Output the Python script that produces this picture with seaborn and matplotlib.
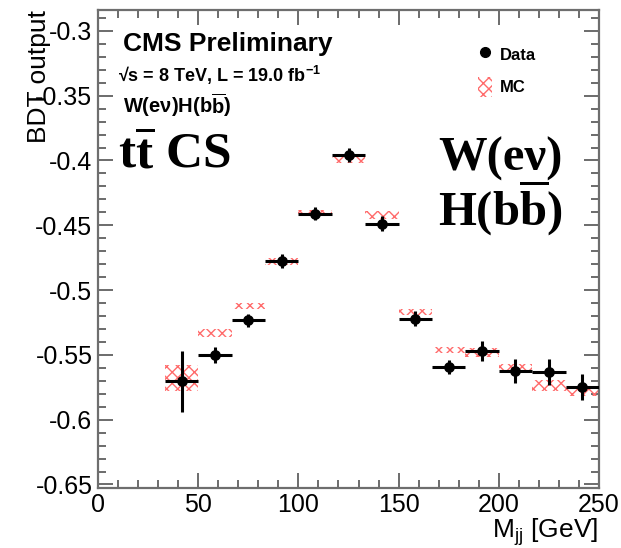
import numpy as np
import pandas as pd
import matplotlib
matplotlib.use("Agg")
import matplotlib.pyplot as plt
import seaborn as sns
from matplotlib.lines import Line2D
from matplotlib.patches import Patch

# ---------------- data ----------------
bin_centers = [41.67, 58.33, 75.0, 91.67, 108.33, 125.0, 141.67, 158.33,
               175.0, 191.67, 208.33, 225.0, 241.67]
bin_halfwidth = 8.333
data_vals = [-0.5705, -0.5500, -0.5233, -0.4777, -0.4410, -0.3954, -0.4487,
             -0.5220, -0.5595, -0.5470, -0.5623, -0.5633, -0.5750]
data_errs = [0.0235, 0.0062, 0.0050, 0.0055, 0.0052, 0.0054, 0.0058,
             0.0058, 0.0054, 0.0074, 0.0092, 0.0103, 0.0100]
mc_vals = [-0.5680, -0.5330, -0.5123, -0.4780, -0.4405, -0.3996, -0.4419,
           -0.5170, -0.5462, -0.5480, -0.5603, -0.5738, -0.5780]
mc_errs = [0.0100, 0.0032, 0.0022, 0.0025, 0.0025, 0.0021, 0.0029,
           0.0022, 0.0022, 0.0033, 0.0033, 0.0042, 0.0041]
x_ticks = [0, 50, 100, 150, 200, 250]
y_ticks = [-0.65, -0.6, -0.55, -0.5, -0.45, -0.4, -0.35, -0.3]
y_ticklabels = ["-0.65", "-0.6", "-0.55", "-0.5", "-0.45", "-0.4", "-0.35", "-0.3"]

df = pd.DataFrame({"mjj": bin_centers, "bdt": data_vals, "err": data_errs,
                   "mc": mc_vals, "mcerr": mc_errs})

# ---------------- style ----------------
sns.set_style("ticks")
plt.rcParams["font.family"] = ["Liberation Sans", "DejaVu Sans"]
plt.rcParams["text.color"] = "black"
plt.rcParams["mathtext.fontset"] = "custom"
plt.rcParams["mathtext.rm"] = "Liberation Serif:bold"
plt.rcParams["mathtext.bf"] = "Liberation Sans:bold"
plt.rcParams["mathtext.sf"] = "Liberation Sans"
plt.rcParams["hatch.linewidth"] = 1.0

W, H = 621, 548
fig = plt.figure(figsize=(W / 100, H / 100), dpi=100)
ax = fig.add_axes([98 / W, 1 - 487.7 / H, (599 - 98) / W, (487.7 - 9.5) / H])

mc_red = (1.0, 0.42, 0.42)

# MC hatched boxes
ax.bar(df["mjj"], 2 * df["mcerr"], bottom=df["mc"] - df["mcerr"],
       width=2 * bin_halfwidth, fill=False, hatch="xxx",
       edgecolor=mc_red, linewidth=0, zorder=2)

# Data error bars
ax.errorbar(df["mjj"], df["bdt"], yerr=df["err"], xerr=bin_halfwidth,
            fmt="none", ecolor="black", elinewidth=2.2, capsize=0, zorder=3)
# Data points
sns.scatterplot(data=df, x="mjj", y="bdt", ax=ax, color="black", s=60,
                edgecolor="black", linewidth=0, zorder=4, legend=False)

ax.set_xlim(0, 250)
ax.set_ylim(-0.6525, -0.2835)
ax.set_xticks(x_ticks)
ax.set_xticklabels([str(t) for t in x_ticks])
ax.set_yticks(y_ticks)
ax.set_yticklabels(y_ticklabels)
ax.set_xticks(np.arange(0, 251, 10), minor=True)
ax.set_yticks(np.arange(-0.65, -0.28, 0.01), minor=True)
ax.set_xlabel("")
ax.set_ylabel("")

spine_col = "#6e6e6e"
for s in ax.spines.values():
    s.set_color(spine_col)
    s.set_linewidth(1.6)
    s.set_visible(True)
ax.tick_params(which="both", direction="in", top=True, right=True,
               color="#444444", labelcolor="black", width=1.1,
               labelsize=18, pad=4)
ax.tick_params(which="major", length=11)
ax.tick_params(which="minor", length=5.5)

# axis titles
fig.text(39 / W, 1 - 10 / H, "BDT output", rotation=90, ha="center", va="top",
         fontsize=19, color="black")
fig.text(598 / W, 1 - 537 / H, r"M$_{\mathsf{jj}}$ [GeV]", ha="right",
         va="baseline", fontsize=19, color="black")

# labels
fig.text(123 / W, 1 - 51 / H, "CMS Preliminary", fontsize=19,
         fontweight="bold", va="baseline")
fig.text(118 / W, 1 - 82 / H, r"√s = 8 TeV, L = 19.0 fb$^{\mathbf{-1}}$",
         fontsize=13, fontweight="bold", va="baseline")
fig.text(123 / W, 1 - 113 / H, r"W(eν)H(b$\overline{\mathbf{b}}$)",
         fontsize=14.5, fontweight="bold", va="baseline")
fig.text(118 / W, 1 - 168 / H, r"t$\overline{\mathrm{t}}$ CS",
         family="Liberation Serif", fontweight="bold", fontsize=37,
         va="baseline")
fig.text(500 / W, 1 - 171 / H, "W(eν)", family="Liberation Serif",
         fontweight="bold", fontsize=35, va="baseline", ha="center")
fig.text(500 / W, 1 - 225 / H, r"H(b$\overline{\mathrm{b}}$)",
         family="Liberation Serif", fontweight="bold", fontsize=35,
         va="baseline", ha="center")

# legend
handles = [Line2D([], [], marker="o", color="black", linestyle="none",
                  markersize=7),
           Patch(facecolor="none", edgecolor=mc_red, hatch="xxx", linewidth=0)]
leg = ax.legend(handles, ["Data", "MC"], loc="upper left",
                bbox_to_anchor=(478 / W, 1 - 44 / H),
                bbox_transform=fig.transFigure, frameon=False,
                prop={"weight": "bold", "size": 12}, handlelength=0.85,
                handleheight=1.5, labelspacing=0.75, handletextpad=0.45,
                borderpad=0, borderaxespad=0, labelcolor="black")

fig.savefig("out.png", dpi=100)
